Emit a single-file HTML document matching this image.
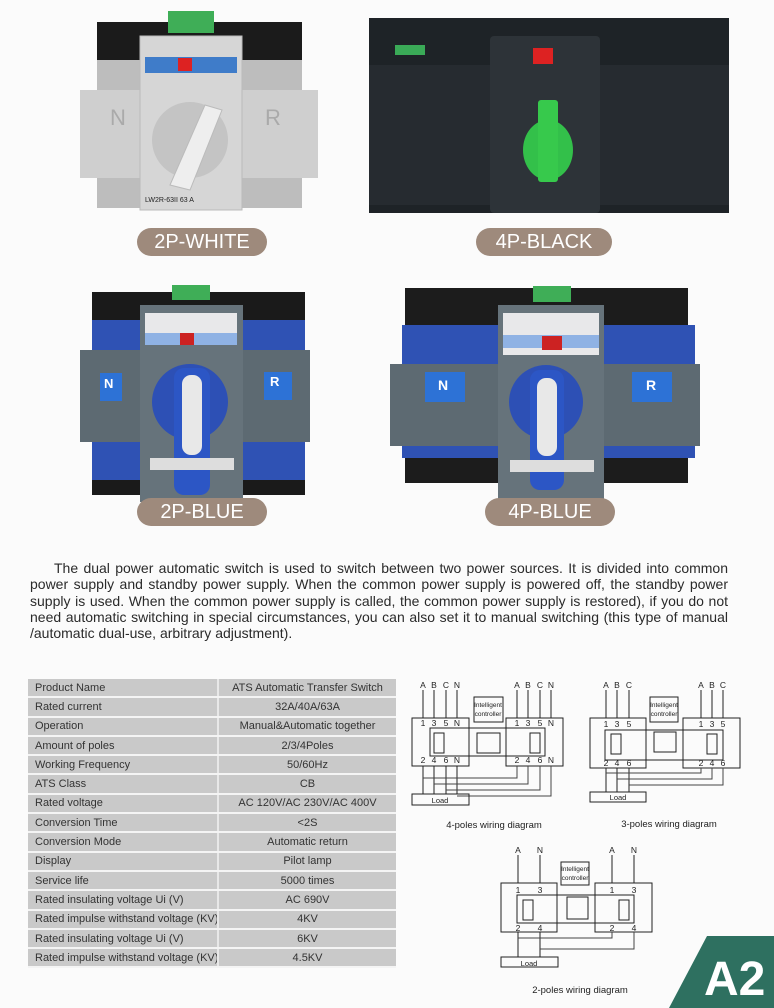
<!DOCTYPE html>
<html><head><meta charset="utf-8">
<style>
body{margin:0;background:#fbfbfb;width:774px;height:1008px;position:relative;overflow:hidden;font-family:"Liberation Sans",sans-serif}
.pill{position:absolute;background:#9e8a7c;color:#fff;border-radius:14px;height:28px;line-height:28px;text-align:center;font-size:20px}
.para{position:absolute;left:30px;top:560px;width:698px;font-size:14px;line-height:16.3px;color:#2a2a2a}
.para div{text-align:justify;text-align-last:justify;white-space:nowrap;overflow:visible}
.para div.l{text-align-last:left}
table{position:absolute;left:28px;top:679px;width:368px;border-collapse:collapse;background:#c9c9c9;font-size:11px;color:#333;table-layout:fixed}
td{height:17.3px;padding:0 0 0 7px;border-bottom:2px solid #f4f4f4;white-space:nowrap;overflow:hidden}
td+td{text-align:center;border-left:2px solid #e8e8e8;padding:0}
svg{position:absolute;left:0;top:0}
</style></head><body>
<svg width="774" height="1008" viewBox="0 0 774 1008" font-family="Liberation Sans, sans-serif">
<rect x="97" y="22" width="205" height="183" fill="#1b1b1b"/>
<rect x="168" y="11" width="46" height="22" fill="#3fae57"/>
<rect x="80" y="90" width="238" height="88" fill="#cfcfcf"/>
<rect x="97" y="60" width="45" height="30" fill="#bdbdbd"/><rect x="242" y="60" width="60" height="30" fill="#bdbdbd"/>
<rect x="97" y="178" width="45" height="30" fill="#bdbdbd"/><rect x="242" y="178" width="60" height="30" fill="#bdbdbd"/>
<rect x="140" y="36" width="102" height="174" fill="#d6d6d6" stroke="#bbb"/>
<rect x="145" y="57" width="92" height="16" fill="#3f7cc9"/>
<rect x="178" y="58" width="14" height="13" fill="#d22"/>
<circle cx="190" cy="140" r="38" fill="#c4c4c4"/>
<path d="M170 185 L205 105 L222 110 L190 190 Z" fill="#eee" stroke="#bbb"/>
<text x="110" y="125" font-size="22" fill="#aaa">N</text><text x="265" y="125" font-size="22" fill="#aaa">R</text>
<text x="145" y="202" font-size="7" fill="#222">LW2R-63II 63 A</text>
<rect x="369" y="18" width="360" height="195" fill="#1e2327"/>
<rect x="369" y="65" width="360" height="140" fill="#262b30"/>
<rect x="395" y="45" width="30" height="10" fill="#3aaa57"/>
<rect x="490" y="36" width="110" height="177" fill="#2d3338" rx="4"/>
<rect x="533" y="48" width="20" height="16" fill="#d22"/>
<ellipse cx="548" cy="150" rx="25" ry="30" fill="#33c04a"/>
<rect x="538" y="100" width="20" height="82" fill="#37c94c" rx="3"/>
<rect x="92" y="292" width="213" height="203" fill="#1a1a1a"/>
<rect x="172" y="285" width="38" height="15" fill="#3fae57"/>
<rect x="92" y="320" width="213" height="30" fill="#2f52b4"/>
<rect x="92" y="440" width="213" height="40" fill="#2f52b4"/>
<rect x="80" y="350" width="230" height="92" fill="#5d6a72"/>
<rect x="100" y="373" width="22" height="28" fill="#2d72d6"/><text x="104" y="388" font-size="13" font-weight="bold" fill="#fff">N</text>
<rect x="264" y="372" width="28" height="28" fill="#2d72d6"/><text x="270" y="386" font-size="13" font-weight="bold" fill="#fff">R</text>
<rect x="140" y="305" width="103" height="197" fill="#66737b"/>
<rect x="145" y="313" width="92" height="30" fill="#e8e8ea"/><rect x="145" y="333" width="92" height="12" fill="#8fb2e4"/>
<rect x="180" y="333" width="14" height="12" fill="#c22"/>
<circle cx="190" cy="402" r="38" fill="#2d50b5"/>
<rect x="174" y="368" width="36" height="127" rx="10" fill="#2c56c5"/>
<rect x="182" y="375" width="20" height="80" rx="9" fill="#e8e8e8"/>
<rect x="150" y="458" width="84" height="12" fill="#ddd"/>
<rect x="405" y="288" width="283" height="195" fill="#1c1c1c"/>
<rect x="402" y="325" width="293" height="45" fill="#2f52b4"/>
<rect x="402" y="440" width="293" height="18" fill="#2f52b4"/>
<rect x="390" y="364" width="310" height="82" fill="#5d6a72"/>
<rect x="425" y="372" width="40" height="30" fill="#2d72d6"/><text x="438" y="390" font-size="14" font-weight="bold" fill="#fff">N</text>
<rect x="632" y="372" width="40" height="30" fill="#2d72d6"/><text x="646" y="390" font-size="14" font-weight="bold" fill="#fff">R</text>
<rect x="533" y="286" width="38" height="16" fill="#3fae57"/>
<rect x="498" y="305" width="106" height="195" fill="#66737b"/>
<rect x="503" y="313" width="96" height="42" fill="#e8e8ea"/><rect x="503" y="335" width="96" height="13" fill="#8fb2e4"/>
<rect x="542" y="336" width="20" height="14" fill="#c22"/>
<circle cx="546" cy="402" r="37" fill="#2d50b5"/>
<rect x="530" y="370" width="34" height="120" rx="10" fill="#2c56c5"/>
<rect x="537" y="378" width="20" height="78" rx="9" fill="#e8e8e8"/>
<rect x="510" y="460" width="84" height="12" fill="#ddd"/>

<polygon points="707,936 774,936 774,1008 669,1008" fill="#2e7060"/>
<text x="704" y="995" font-size="48" font-weight="bold" fill="#fff">A2</text>

<g fill="none" stroke="#222" stroke-width="1">
<path d="M423 690V718M434 690V718M446 690V718M457 690V718M517 690V718M528 690V718M540 690V718M551 690V718"/>
<rect x="412" y="718" width="57" height="48"/><rect x="506" y="718" width="57" height="48"/>
<rect x="430" y="728" width="115" height="28"/>
<rect x="474" y="697" width="29" height="25"/><rect x="477" y="733" width="23" height="20"/>
<rect x="434" y="733" width="10" height="20"/><rect x="530" y="733" width="10" height="20"/>
<path d="M423 766V794M434 766V794M446 766V794M457 766V794"/>
<path d="M423 778H517V766M434 784H528V766M446 790H540V766M457 796H551V766" stroke="#444"/>
<rect x="412" y="794" width="57" height="11"/>
<path d="M606 690V718M617 690V718M629 690V718M701 690V718M712 690V718M723 690V718"/>
<rect x="590" y="718" width="56" height="50"/><rect x="683" y="718" width="57" height="50"/>
<rect x="605" y="730" width="118" height="30"/>
<rect x="650" y="697" width="28" height="25"/><rect x="654" y="732" width="22" height="20"/>
<rect x="611" y="734" width="10" height="20"/><rect x="707" y="734" width="10" height="20"/>
<path d="M606 768V792M617 768V792M629 768V792"/>
<path d="M606 773H701V768M617 779H712V768M629 785H723V768" stroke="#444"/>
<rect x="590" y="792" width="56" height="10"/>
<path d="M518 855V883M540 855V883M612 855V883M634 855V883"/>
<rect x="501" y="883" width="56" height="49"/><rect x="595" y="883" width="57" height="49"/>
<rect x="517" y="895" width="117" height="28"/>
<rect x="561" y="862" width="28" height="23"/><rect x="567" y="897" width="21" height="22"/>
<rect x="523" y="900" width="10" height="20"/><rect x="619" y="900" width="10" height="20"/>
<path d="M518 932V957M540 932V957"/>
<path d="M518 938H612V932M540 949H634V932" stroke="#444"/>
<rect x="501" y="957" width="57" height="10"/>
</g>
<g font-size="8.5" fill="#222" text-anchor="middle">
<text x="423" y="688">A</text><text x="434" y="688">B</text><text x="446" y="688">C</text><text x="457" y="688">N</text>
<text x="517" y="688">A</text><text x="528" y="688">B</text><text x="540" y="688">C</text><text x="551" y="688">N</text>
<text x="423" y="726">1</text><text x="434" y="726">3</text><text x="446" y="726">5</text><text x="457" y="726">N</text>
<text x="517" y="726">1</text><text x="528" y="726">3</text><text x="540" y="726">5</text><text x="551" y="726">N</text>
<text x="423" y="763">2</text><text x="434" y="763">4</text><text x="446" y="763">6</text><text x="457" y="763">N</text>
<text x="517" y="763">2</text><text x="528" y="763">4</text><text x="540" y="763">6</text><text x="551" y="763">N</text>
<text x="606" y="688">A</text><text x="617" y="688">B</text><text x="629" y="688">C</text>
<text x="701" y="688">A</text><text x="712" y="688">B</text><text x="723" y="688">C</text>
<text x="606" y="727">1</text><text x="617" y="727">3</text><text x="629" y="727">5</text>
<text x="701" y="727">1</text><text x="712" y="727">3</text><text x="723" y="727">5</text>
<text x="606" y="766">2</text><text x="617" y="766">4</text><text x="629" y="766">6</text>
<text x="701" y="766">2</text><text x="712" y="766">4</text><text x="723" y="766">6</text>
<text x="518" y="853">A</text><text x="540" y="853">N</text><text x="612" y="853">A</text><text x="634" y="853">N</text>
<text x="518" y="893">1</text><text x="540" y="893">3</text><text x="612" y="893">1</text><text x="634" y="893">3</text>
<text x="518" y="931">2</text><text x="540" y="931">4</text><text x="612" y="931">2</text><text x="634" y="931">4</text>
<text x="440" y="803" font-size="7.5">Load</text><text x="618" y="800" font-size="7.5">Load</text><text x="529" y="966" font-size="7.5">Load</text>
<g font-size="6.5"><text x="488" y="707">Intelligent</text><text x="488" y="716">controller</text>
<text x="664" y="707">Intelligent</text><text x="664" y="716">controller</text>
<text x="575" y="871">Intelligent</text><text x="575" y="880">controller</text></g>
<g font-size="9.5"><text x="494" y="828">4-poles wiring diagram</text><text x="669" y="827">3-poles wiring diagram</text><text x="580" y="993">2-poles wiring diagram</text></g>
</g>
</svg>
<div class="pill" style="left:137px;top:228px;width:130px">2P-WHITE</div>
<div class="pill" style="left:476px;top:228px;width:136px">4P-BLACK</div>
<div class="pill" style="left:137px;top:498px;width:130px">2P-BLUE</div>
<div class="pill" style="left:485px;top:498px;width:130px">4P-BLUE</div>
<div class="para">
<div style="padding-left:24px;white-space:normal">The dual power automatic switch is used to switch between two power sources. It is divided into common</div>
<div style="white-space:normal">power supply and standby power supply. When the common power supply is powered off, the standby power</div>
<div style="white-space:normal">supply is used. When the common power supply is called, the common power supply is restored), if you do not</div>
<div style="white-space:normal">need automatic switching in special circumstances, you can also set it to manual switching (this type of manual</div>
<div class="l">/automatic dual-use, arbitrary adjustment).</div>
</div>
<table>
<colgroup><col style="width:190px"><col></colgroup>
<tr><td>Product Name</td><td>ATS Automatic Transfer Switch</td></tr>
<tr><td>Rated current</td><td>32A/40A/63A</td></tr>
<tr><td>Operation</td><td>Manual&amp;Automatic together</td></tr>
<tr><td>Amount of poles</td><td>2/3/4Poles</td></tr>
<tr><td>Working Frequency</td><td>50/60Hz</td></tr>
<tr><td>ATS Class</td><td>CB</td></tr>
<tr><td>Rated voltage</td><td>AC 120V/AC 230V/AC 400V</td></tr>
<tr><td>Conversion Time</td><td>&lt;2S</td></tr>
<tr><td>Conversion Mode</td><td>Automatic return</td></tr>
<tr><td>Display</td><td>Pilot lamp</td></tr>
<tr><td>Service life</td><td>5000 times</td></tr>
<tr><td>Rated insulating voltage Ui (V)</td><td>AC 690V</td></tr>
<tr><td>Rated impulse withstand voltage (KV)</td><td>4KV</td></tr>
<tr><td>Rated insulating voltage Ui (V)</td><td>6KV</td></tr>
<tr><td>Rated impulse withstand voltage (KV)</td><td>4.5KV</td></tr>
</table>
</body></html>
